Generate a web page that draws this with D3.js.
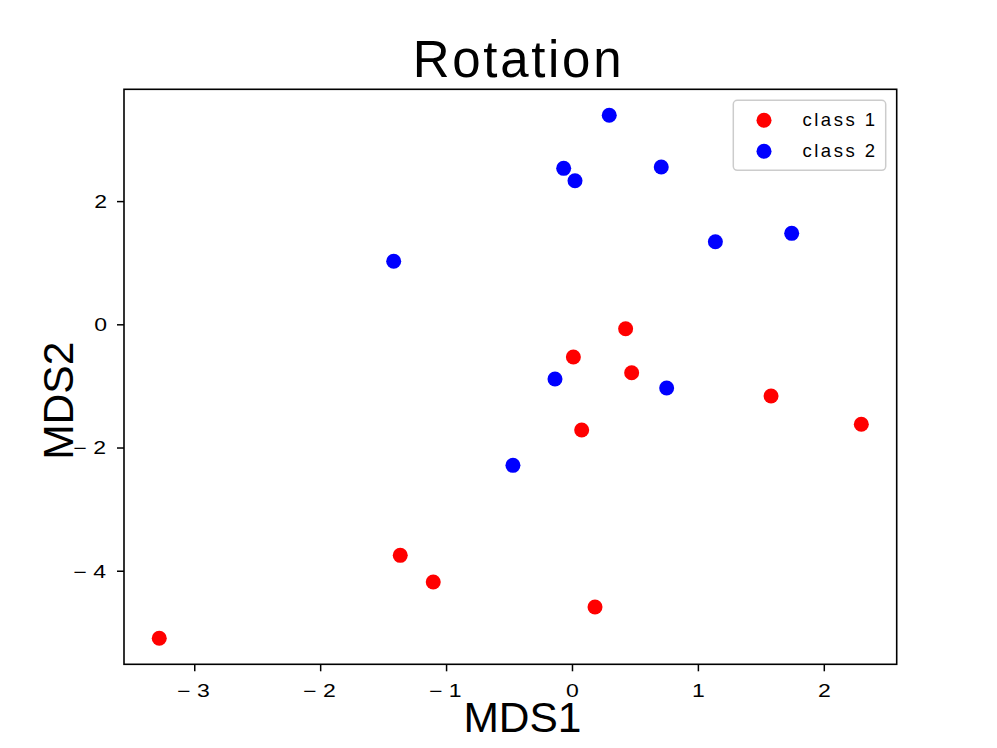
<!DOCTYPE html>
<html>
<head>
<meta charset="utf-8">
<script src="https://cdn.jsdelivr.net/npm/d3@7"></script>
<style>
  html, body { margin: 0; padding: 0; background: #fff; }
  svg text { font-family: "Liberation Sans", Arial, sans-serif; fill: #000; }
</style>
</head>
<body>
<svg id="chart" width="997" height="748"></svg>
<script>
// ---- data ----
const seriesNames = ["class 1", "class 2"];
const seriesColors = ["#ff0000", "#0000ff"];
const class1X = [0.426, 0.011, 0.474, 1.581, 2.298, 0.077, 0.183, -1.364, -1.102, -3.278];
const class1Y = [-0.071, -0.531, -0.786, -1.164, -1.623, -1.716, -4.589, -3.750, -4.183, -5.097];
const class2X = [-1.416, 0.296, -0.066, 0.024, 0.709, 1.139, 1.745, -0.135, 0.752, -0.469];
const class2Y = [1.023, 3.393, 2.532, 2.331, 2.554, 1.341, 1.477, -0.888, -1.034, -2.289];
const xTicks = [-3, -2, -1, 0, 1, 2];
const yTicks = [-4, -2, 0, 2];
const xDomain = [-3.558, 2.579];
const yDomain = [-5.519, 3.815];

// ---- layout ----
const L = 124, R = 896.7, T = 89.3, B = 664.3;
const SX = 1.3; // horizontal stretch of tick glyphs
const LS = 5;   // gap between minus sign and digit
const svg = d3.select("#chart");
const x = d3.scaleLinear().domain(xDomain).range([L, R]);
const y = d3.scaleLinear().domain(yDomain).range([B, T]);

const fmt = v => v < 0 ? "\u2212" + Math.abs(v) : String(v);

// points
const series = [
  { name: seriesNames[0], color: seriesColors[0], xs: class1X, ys: class1Y },
  { name: seriesNames[1], color: seriesColors[1], xs: class2X, ys: class2Y }
];
series.forEach(s => {
  svg.append("g").selectAll("circle")
    .data(s.xs.map((v, i) => [v, s.ys[i]]))
    .join("circle")
    .attr("cx", d => x(d[0]))
    .attr("cy", d => y(d[1]))
    .attr("r", 7.5)
    .attr("fill", s.color);
});

// axes
const xAxis = svg.append("g")
  .attr("transform", `translate(0,${B})`)
  .call(d3.axisBottom(x).tickValues(xTicks).tickFormat(fmt).tickSize(7).tickPadding(13.2).tickSizeOuter(0));
xAxis.select(".domain").remove();
xAxis.selectAll("line").attr("stroke", "#000").attr("stroke-width", 1.5);
xAxis.selectAll("text")
  .attr("font-size", 17.7)
  .attr("font-family", "Liberation Sans, Arial, sans-serif")
  .attr("letter-spacing", d => d < 0 ? LS : 0)
  .attr("dx", d => d < 0 ? LS / 2 - 1 : 0)
  .attr("transform", `scale(${SX},1)`);

const yAxis = svg.append("g")
  .attr("transform", `translate(${L},0)`)
  .call(d3.axisLeft(y).tickValues(yTicks).tickFormat(fmt).tickSize(7).tickPadding(6).tickSizeOuter(0));
yAxis.select(".domain").remove();
yAxis.selectAll("line").attr("stroke", "#000").attr("stroke-width", 1.5);
yAxis.selectAll("text")
  .attr("font-size", 17.7)
  .attr("font-family", "Liberation Sans, Arial, sans-serif")
  .attr("letter-spacing", d => d < 0 ? LS : 0)
  .attr("dx", d => d < 0 ? LS - 0.9 : 0)
  .attr("dy", "0.36em")
  .attr("transform", `scale(${SX},1)`);

// frame
svg.append("rect")
  .attr("x", L).attr("y", T)
  .attr("width", R - L).attr("height", B - T)
  .attr("fill", "none").attr("stroke", "#000").attr("stroke-width", 1.6);

// legend
const lg = svg.append("g");
lg.append("rect")
  .attr("x", 733.3).attr("y", 100.3).attr("width", 152.4).attr("height", 70)
  .attr("rx", 4).attr("ry", 4)
  .attr("fill", "#fff").attr("fill-opacity", 0.8)
  .attr("stroke", "#cccccc").attr("stroke-width", 1.5);
series.forEach((s, i) => {
  const cy = 120.3 + i * 31;
  lg.append("circle").attr("cx", 764).attr("cy", cy).attr("r", 7.5).attr("fill", s.color);
  lg.append("text").attr("x", 802.5).attr("y", cy + 5.2)
    .attr("font-size", 18.5).attr("letter-spacing", 2.5).text(s.name);
});

// title & labels
svg.append("text").attr("x", 412.7).attr("y", 76.7)
  .attr("font-size", 51).attr("letter-spacing", 2.7).text("Rotation");
svg.append("text").attr("x", 463.4).attr("y", 731.7)
  .attr("font-size", 42.5).text("MDS1");
svg.append("text").attr("transform", "translate(73.3,459.8) rotate(-90)")
  .attr("font-size", 42.5).text("MDS2");
</script>
</body>
</html>
